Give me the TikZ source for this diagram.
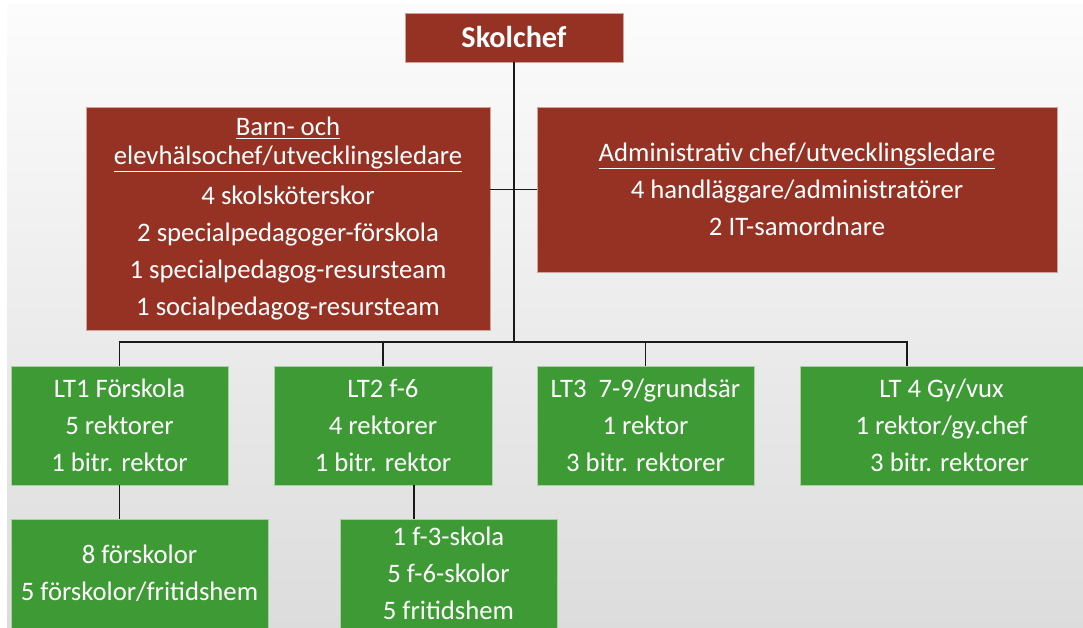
\documentclass[tikz,border=0pt]{standalone}
\usepackage{fontspec}
\setmainfont{Carlito}
\usepackage{tikz}

\definecolor{chefred}{HTML}{963224}
\definecolor{ltgreen}{HTML}{3E9A35}
\definecolor{bgtop}{HTML}{FCFCFC}
\definecolor{bgbottom}{HTML}{DCDCDC}

\begin{document}
\begin{tikzpicture}[x=0.02cm, y=-0.02cm,
    box/.style={rectangle, draw=white!55!#1, fill=#1, text=white, align=center, inner sep=0pt, line width=0.4pt, font=\fontsize{15.2}{21}\selectfont},
    redbox/.style={box=chefred},
    greenbox/.style={box=ltgreen, minimum height=2.38cm},
    unitbox/.style={box=ltgreen, minimum height=2.18cm},
    line/.style={draw, black!90, line width=0.95pt}]

    % Background
    \clip (0,0) rectangle (1083,628);
    \shade[top color=bgtop, bottom color=bgbottom] (7,5) rectangle (1083,628);

    % Nodes
    \node [redbox, minimum width=4.36cm, minimum height=0.98cm, font=\fontsize{17.2}{20}\selectfont\bfseries] (chef) at (514,37.5) {Skolchef};
    \node [redbox, minimum width=8.08cm, minimum height=4.46cm] (barn) at (288,218.5)
        {\underline{Barn- och}\\[-4.6pt]\underline{elevhälsochef/utvecklingsledare}\\[1.7pt]
         4 skolsköterskor\\2 specialpedagoger-förskola\\1 specialpedagog-resursteam\\1 socialpedagog-resursteam};
    \node [redbox, minimum width=10.4cm, minimum height=3.3cm] (admin) at (797,189.5)
        {\underline{Administrativ chef/utvecklingsledare}\\4 handläggare/administratörer\\2 IT-samordnare};

    % Ledningsteam
    \node [greenbox, minimum width=4.34cm] (lt1) at (119.5,425.5) {LT1 Förskola\\5 rektorer\\1 bitr. rektor};
    \node [greenbox, minimum width=4.36cm] (lt2) at (383,425.5) {LT2 f-6\\4 rektorer\\1 bitr. rektor};
    \node [greenbox, minimum width=4.34cm] (lt3) at (645.5,425.5) {LT3\ \ 7-9/grundsär\\1 rektor\\3 bitr. rektorer};
    \node [greenbox, minimum width=5.66cm] (lt4) at (941.5,425.5) {LT 4 Gy/vux\\1 rektor/gy.chef\\\hspace{0.6em}3 bitr. rektorer};

    % Enheter
    \node [unitbox, minimum width=5.14cm] (forskolor) at (139.5,573.5) {8 förskolor\\5 förskolor/fritidshem};
    \node [unitbox, minimum width=4.34cm] (skolor) at (448.5,573.5) {1 f-3-skola\\5 f-6-skolor\\5 fritidshem};

    % Paths
    \coordinate (bus) at (514,342);
    \coordinate (skoltop) at ([xshift=0.62cm]lt2.south);
    \path [line] (chef) -- (bus);
    \path [line] (barn.east |- admin.west) -- (admin.west);
    \path [line] (bus) -| (lt1);
    \path [line] (bus) -| (lt2);
    \path [line] (bus) -| (lt3);
    \path [line] (bus) -| ([xshift=-0.69cm]lt4.north);
    \path [line] (lt1.south) -- (lt1.south |- forskolor.north);
    \path [line] (skoltop) -- (skoltop |- skolor.north);

\end{tikzpicture}
\end{document}
